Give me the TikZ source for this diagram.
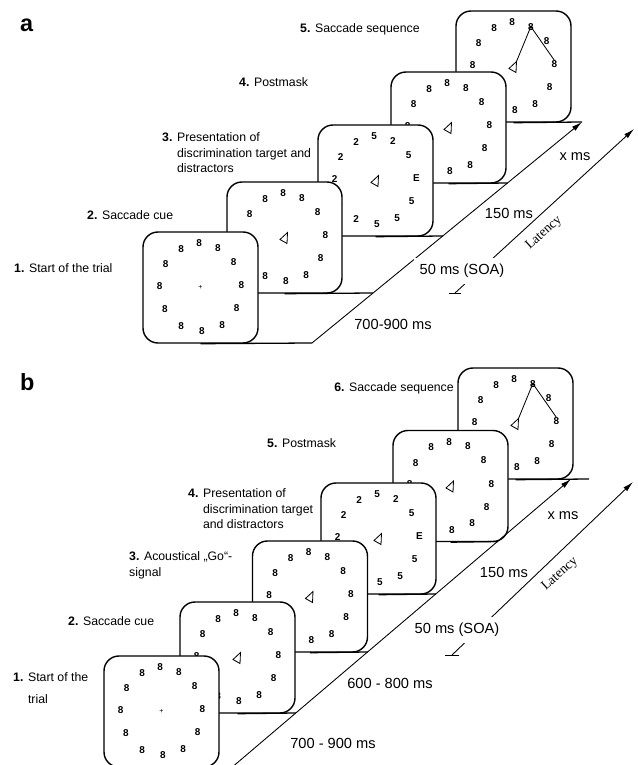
\documentclass[tikz,border=0pt]{standalone}
\usepackage{fontspec}
\setmainfont{Liberation Sans}
\newfontfamily\latencyfont{Liberation Serif}
\usetikzlibrary{arrows.meta}
\tikzstyle{screen}=[draw, fill=white, line width=1.2pt, rounded corners=4.5mm, minimum width=34.5mm, minimum height=33.3mm, inner sep=0pt]
\tikzstyle{glyph}=[font=\fontsize{8.5}{8.5}\selectfont\bfseries, inner sep=0pt]
\tikzstyle{cue}=[draw, line width=0.7pt, line join=miter]
\tikzstyle{timeline}=[draw, line width=0.75pt, -{Latex[length=9pt,width=4.5pt]}]
\tikzstyle{steplabel}=[font=\fontsize{10.5}{13.2}\selectfont, anchor=west, align=left, inner sep=0pt]
\tikzstyle{duration}=[font=\fontsize{12.5}{14}\selectfont, inner sep=1pt]
\tikzstyle{latency}=[font=\latencyfont\fontsize{11.5}{13}\selectfont, rotate=42]
\tikzstyle{panel}=[font=\fontsize{20}{20}\selectfont\bfseries, anchor=west, inner sep=0pt]

\def\eights{92/8,65/8,36/8,3/8,-28/8,-58/8,-88/8,-118/8,-150/8,178/8,148/8,118/8}
\def\digits{92/5,65/2,36/5,3/E,-28/5,-58/5,-88/5,-118/2,-150/2,178/2,148/2,118/2}

\begin{document}
\begin{tikzpicture}[x=0.3mm, y=0.3mm]

    \clip (0,0) rectangle (637,765);

    % panel a: screens from back to front
    \foreach \name/\x/\y/\marks in {f5/513.5/698.5/\eights, f4/448.5/637.5/\eights, f3/375.5/584.5/\digits, f2/284.5/527.5/\eights, f1/200.5/477.5/\eights}{
        \node[screen] (\name) at (\x,\y) {};
        \edef\marklist{\marks}
        \foreach \a/\c [count=\i] in \marklist
            \node[glyph] (\name-\i) at ([shift={(\a:41 and 44)}]\name.center) {\c};
    }
    \node[glyph, font=\fontsize{6}{6}\selectfont] (f1-fix) at (f1) {+};
    \foreach \f in {f2,f3,f4,f5}
        \draw[cue, shift={(\f.center)}] (3,5) -- (-4.5,-2) -- (2.5,-6) -- cycle;
    \draw[line width=0.7pt] ([shift={(3,5)}]f5.center) -- (f5-2.center) -- (f5-4.north);

    \foreach \name/\x/\y in {ta1/312/422, ta2/373/472, ta3/443/529, ta4/507.5/582, ta5/582/643, la0/455/472, la1/634/636}
        \coordinate (\name) at (\x,\y);
    \foreach \f/\t in {f1/ta1, f2/ta2, f3/ta3, f4/ta4, f5/ta5}
        \draw[line width=1.1pt] (\f.south) -- (\t);
    \draw[timeline] (ta1) -- (ta5);
    \draw[timeline] (la0) -- (la1);
    \draw[line width=0.75pt] (la0) +(-6,0) -- +(6,0);

    \node[panel] (pa) at (20,740) {a};
    \node[steplabel] (sa5) at (300,736) {\textbf{5.} Saccade sequence};
    \node[steplabel] (sa4) at (239,683) {\textbf{4.} Postmask};
    \node[steplabel] (sa3) at (162,611) {\begin{tabular}{@{}l@{ }l@{}}\textbf{3.}&Presentation of\\&discrimination target and\\&distractors\end{tabular}};
    \node[steplabel] (sa2) at (87,550) {\textbf{2.} Saccade cue};
    \node[steplabel] (sa1) at (14,497) {\textbf{1.} Start of the trial};

    \node[duration] (da5) at (575,608) {x ms};
    \node[duration] (da4) at (509,552) {150 ms};
    \node[duration, fill=white, inner sep=1.8mm] (da3) at (462,494) {50 ms (SOA)};
    \node[duration] (da2) at (393,441) {700-900 ms};
    \node[latency] (lat-a) at (544,532) {Latency};

    % panel b
    \foreach \name/\x/\y/\marks in {g6/515.5/341.5/\eights, g5/450.5/279/\eights, g4/378.5/226.5/\digits, g3/310/168.5/\eights, g2/237.5/107.5/\eights, g1/161.5/53.5/\eights}{
        \node[screen] (\name) at (\x,\y) {};
        \edef\marklist{\marks}
        \foreach \a/\c [count=\i] in \marklist
            \node[glyph] (\name-\i) at ([shift={(\a:41 and 44)}]\name.center) {\c};
    }
    \node[glyph, font=\fontsize{6}{6}\selectfont] (g1-fix) at (g1) {+};
    \foreach \f in {g2,g3,g4,g5,g6}
        \draw[cue, shift={(\f.center)}] (3,5) -- (-4.5,-2) -- (2.5,-6) -- cycle;
    \draw[line width=0.7pt] ([shift={(3,5)}]g6.center) -- (g6-2.center) -- (g6-4.north);

    \foreach \name/\x/\y in {tb1/232.3/-2, tb2/295.9/52, tb3/367.8/113, tb4/436.1/171, tb5/498/223.5, tb6/571/286, gend/589/286, lb0/452/110, lb1/633/283}
        \coordinate (\name) at (\x,\y);
    \foreach \f/\t in {g1/tb1, g2/tb2, g3/tb3, g4/tb4, g5/tb5, g6/gend}
        \draw[line width=1.1pt] (\f.south) -- (\t);
    \draw[timeline] (tb1) -- (tb6);
    \draw[timeline] (lb0) -- (lb1);
    \draw[line width=0.75pt] (lb0) +(-7,0) -- +(7,0);

    \node[panel] (pb) at (20,383) {b};
    \node[steplabel, anchor=east] (sb6) at (454,377) {\textbf{6.} Saccade sequence};
    \node[steplabel] (sb5) at (267,322) {\textbf{5.} Postmask};
    \node[steplabel] (sb4) at (188,255) {\begin{tabular}{@{}l@{ }l@{}}\textbf{4.}&Presentation of\\&discrimination target\\&and distractors\end{tabular}};
    \node[steplabel] (sb3) at (129,199.5) {\textbf{3.} Acoustical „Go“-\\signal};
    \node[steplabel] (sb2) at (68,144) {\textbf{2.} Saccade cue};
    \node[steplabel] (sb1) at (13,76) {\begin{tabular}{@{}l@{ }l@{}}\textbf{1.}&Start of the\\[5.5pt]&trial\end{tabular}};

    \node[duration] (db6) at (563,249) {x ms};
    \node[duration] (db5) at (504,193) {150 ms};
    \node[duration, fill=white, inner sep=1.8mm] (db4) at (457,135) {50 ms (SOA)};
    \node[duration] (db3) at (390,82) {600 - 800 ms};
    \node[duration] (db2) at (333,22) {700 - 900 ms};
    \node[latency] (lat-b) at (560,191) {Latency};

\end{tikzpicture}
\end{document}
